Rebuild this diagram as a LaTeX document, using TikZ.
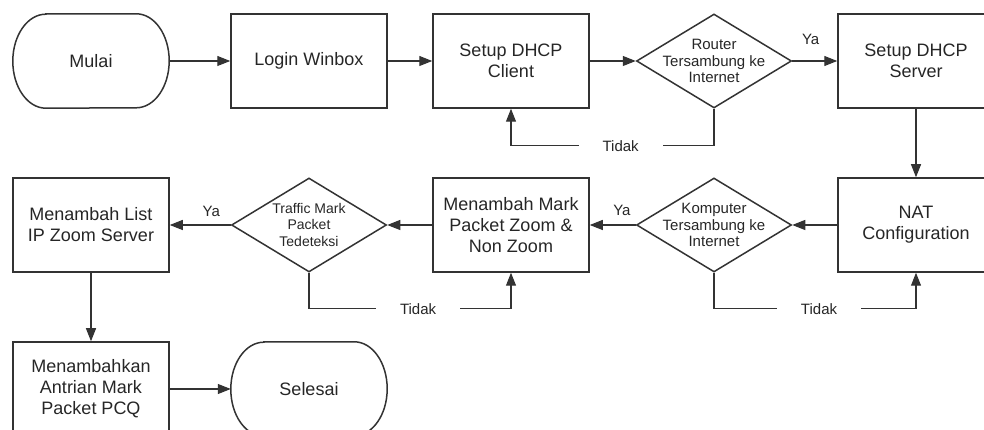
\documentclass[tikz,border=0pt]{standalone}
\usepackage{fontspec}
\setmainfont{Liberation Sans}
\usetikzlibrary{calc,shapes.geometric,arrows.meta}

\begin{document}
\begin{tikzpicture}[x=1pt,y=1pt,
    garis/.style={draw=black!80, line width=1.5pt},
    proses/.style={garis, minimum width=156pt, minimum height=94pt, align=center,
        font=\fontsize{18}{21}\selectfont, text=black!85},
    terminal/.style={minimum width=156pt, minimum height=94pt,
        font=\fontsize{18}{21}\selectfont, text=black!85},
    keputusan/.style={diamond, garis, minimum width=155pt, minimum height=94pt, inner sep=0pt},
    isi/.style={align=center, font=\fontsize{15}{16.5}\selectfont, text=black!85},
    panah/.style={draw=black!80, line width=1.1pt, -{Triangle[length=13pt,width=10pt]}},
    ket/.style={font=\fontsize{15}{18}\selectfont, text=black!85},
    tidak/.style={ket, fill=white, inner xsep=24pt, inner ysep=2pt}]

    \useasboundingbox (0,0) rectangle (984,430);
    \clip (0,0) rectangle (984,430);

    % baris atas
    \node[terminal] (mulai) at (91,369) {Mulai};
    \node[proses] (login) at (309,369) {Login Winbox};
    \node[proses] (client) at (511,369) {Setup DHCP\\Client};
    \node[keputusan, label={[isi]center:Router\\Tersambung ke\\Internet}] (router) at (714,369) {};
    \node[proses] (server) at (916,369) {Setup DHCP\\Server};

    % baris tengah
    \node[proses] (list) at (91,205) {Menambah List\\IP Zoom Server};
    \node[keputusan, label={[isi, font=\fontsize{14}{16.5}\selectfont]center:Traffic Mark\\Packet\\Tedeteksi}] (traffic) at (309,205) {};
    \node[proses] (mark) at (511,205) {Menambah Mark\\Packet Zoom \&\\Non Zoom};
    \node[keputusan, label={[isi]center:Komputer\\Tersambung ke\\Internet}] (komputer) at (714,205) {};
    \node[proses] (nat) at (916,205) {NAT\\Configuration};

    % baris bawah
    \node[proses] (antrian) at (91,41) {Menambahkan\\Antrian Mark\\Packet PCQ};
    \node[terminal] (selesai) at (309,41) {Selesai};

    % bentuk terminal (ujung elips)
    \foreach \t in {mulai,selesai}
        \draw[garis] ($(\t.north west)+(33,0)$) -- ($(\t.north east)+(-33,0)$)
            arc[start angle=90, end angle=-90, x radius=33pt, y radius=47pt]
            -- ($(\t.south west)+(33,0)$)
            arc[start angle=270, end angle=90, x radius=33pt, y radius=47pt] -- cycle;

    % alur
    \draw[panah] (mulai) -- (login);
    \draw[panah] (login) -- (client);
    \draw[panah] (client) -- (router);
    \draw[panah] (router) -- node[pos=0.41, yshift=22pt, ket] {Ya} (server);
    \draw[panah] (router.south) -- ++(0,-37) -| node[pos=0.23, tidak] {Tidak} (client.south);
    \draw[panah] (server) -- (nat);

    \draw[panah] (nat) -- (komputer);
    \draw[panah] (komputer) -- node[pos=0.3, yshift=15pt, ket] {Ya} (mark);
    \draw[panah] (komputer.south) -- ++(0,-36) -| node[pos=0.26, tidak] {Tidak} (nat.south);
    \draw[panah] (mark) -- (traffic);
    \draw[panah] (traffic) -- node[pos=0.32, yshift=14pt, ket] {Ya} (list);
    \draw[panah] (traffic.south) -- ++(0,-36) -| node[pos=0.27, tidak] {Tidak} (mark.south);

    \draw[panah] (list) -- (antrian);
    \draw[panah] (antrian) -- (selesai);
\end{tikzpicture}
\end{document}
